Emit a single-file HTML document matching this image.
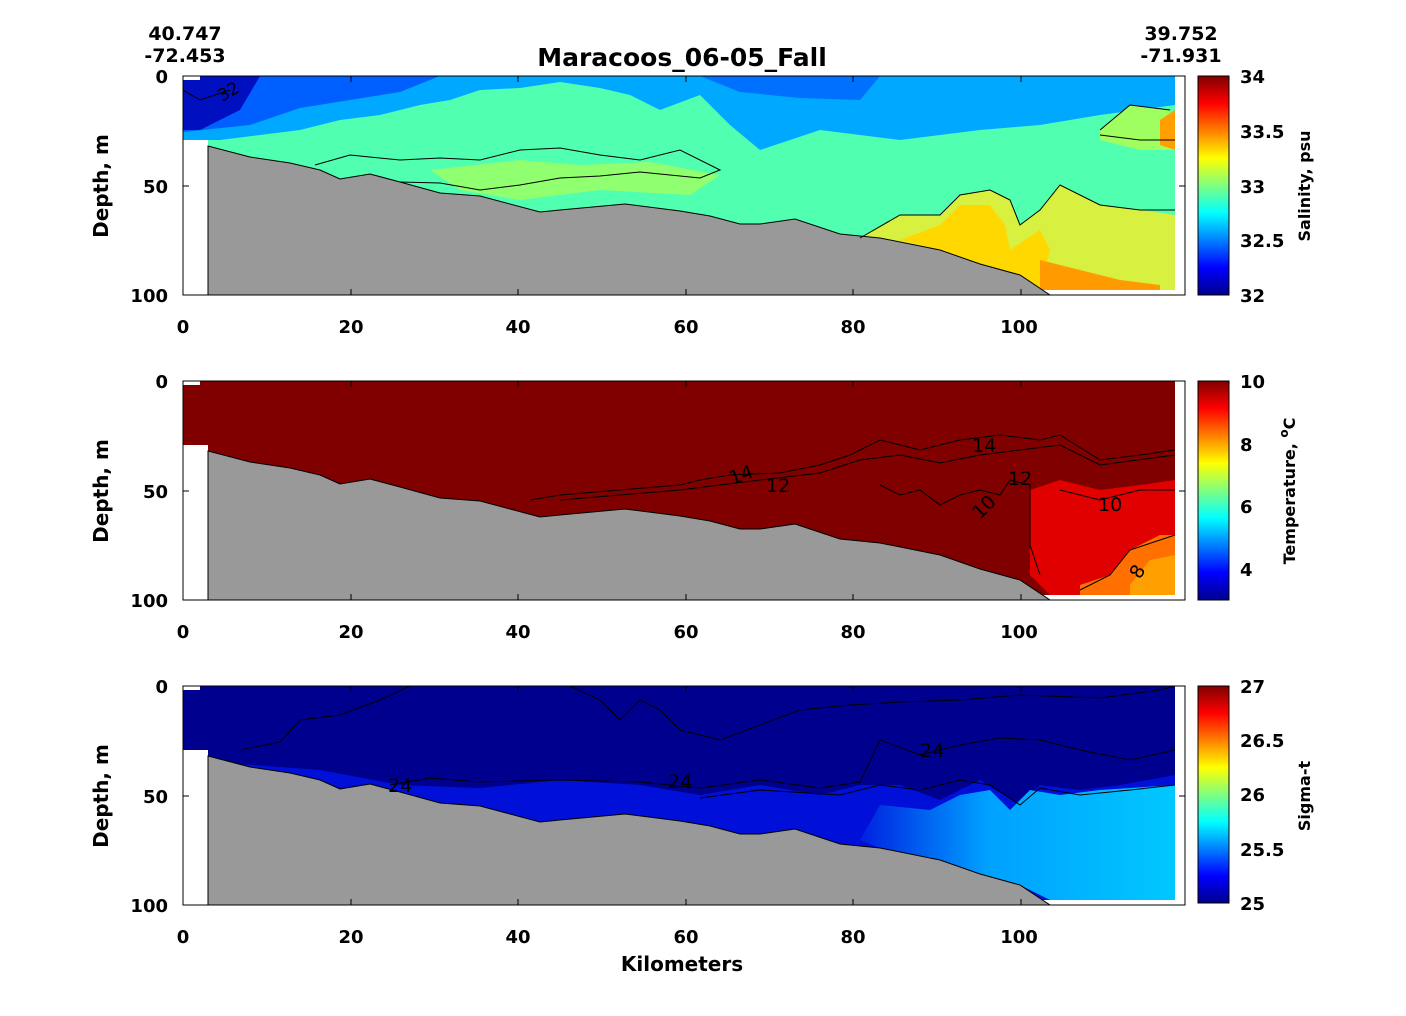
<!DOCTYPE html>
<html><head><meta charset="utf-8"><style>
html,body{margin:0;padding:0;background:#fff;}
svg{display:block;font-family:"DejaVu Sans","Liberation Sans",sans-serif;font-weight:bold;}
</style></head><body>
<svg width="1406" height="1016" viewBox="0 0 1406 1016" xmlns="http://www.w3.org/2000/svg">
<defs>
<linearGradient id="jet" x1="0" y1="1" x2="0" y2="0">
<stop offset="0" stop-color="#00008f"/><stop offset="0.125" stop-color="#0000ff"/>
<stop offset="0.375" stop-color="#00ffff"/><stop offset="0.625" stop-color="#ffff00"/>
<stop offset="0.875" stop-color="#ff0000"/><stop offset="1" stop-color="#800000"/>
</linearGradient>
<linearGradient id="sigR" x1="0" y1="0" x2="1" y2="0">
<stop offset="0" stop-color="#0020e0"/><stop offset="0.4" stop-color="#00a0ff"/><stop offset="1" stop-color="#00c8ff"/>
</linearGradient>
<path id="bath" d="M208,295 L208,146 L250,157 L290,163 L320,170 L340,179 L370,174 L400,182 L440,193 L480,196 L540,212 L560,210 L625,204 L680,211 L710,216 L740,224 L760,224 L795,219 L840,234 L880,238 L940,250 L980,264 L1020,275 L1050,295 Z"/>
<clipPath id="plotclip"><rect x="183" y="76" width="1002" height="219"/></clipPath>
</defs>

<text x="682" y="66" font-size="25" text-anchor="middle">Maracoos_06-05_Fall</text>
<text x="185" y="40" font-size="19" text-anchor="middle">40.747</text>
<text x="185" y="62" font-size="19" text-anchor="middle">-72.453</text>
<text x="1181" y="40" font-size="19" text-anchor="middle">39.752</text>
<text x="1181" y="62" font-size="19" text-anchor="middle">-71.931</text>

<!-- Panel 1: Salinity -->
<g>
<g clip-path="url(#plotclip)">
<rect x="183" y="76" width="992" height="219" fill="#50ffb0"/>
<path d="M183,76 L1175,76 L1175,105 L1100,115 L1040,125 L980,130 L900,140 L820,130 L760,150 L730,125 L700,95 L660,110 L630,95 L600,88 L560,82 L520,88 L480,90 L450,100 L420,105 L380,115 L340,120 L300,130 L260,135 L220,140 L183,140 Z" fill="#00a8ff"/>
<path d="M183,76 L440,76 L400,92 L350,100 L300,108 L250,125 L183,132 Z" fill="#0060ff"/>
<path d="M700,76 L880,76 L860,100 L800,98 L740,92 Z" fill="#0070ff"/>
<path d="M183,76 L260,76 L240,110 L200,130 L183,130 Z" fill="#0010c0"/>
<path d="M430,170 L520,160 L580,165 L650,162 L720,175 L690,195 L600,190 L520,200 L460,190 Z" fill="#90ff70"/>
<path d="M860,238 L900,215 L940,215 L960,195 L990,190 L1010,200 L1020,225 L1040,210 L1060,185 L1100,205 L1140,210 L1175,215 L1175,290 L1050,290 L1020,275 L980,264 L940,250 L880,238 Z" fill="#d8f040"/>
<path d="M900,240 L940,225 L960,205 L990,205 L1005,225 L1010,250 L1040,230 L1050,250 L1040,290 L1020,275 L980,264 L940,250 Z" fill="#ffd800"/>
<path d="M1040,260 L1080,270 L1120,280 L1160,285 L1160,290 L1040,290 Z" fill="#ff9a00"/>
<path d="M1100,130 L1130,105 L1170,110 L1175,150 L1140,150 L1100,140 Z" fill="#a0ff60"/>
<path d="M1160,120 L1175,110 L1175,150 L1160,145 Z" fill="#ffa000"/>
<path d="M183,290 L1175,290 L1175,295 L183,295Z" fill="#fff"/>
<path d="M183,76 L200,76 L200,80 L183,80Z" fill="#fff"/>
<path d="M183,140 L208,140 L208,295 L183,295Z" fill="#fff"/>
<use href="#bath" fill="#999" stroke="#000" stroke-width="1"/>
<g fill="none" stroke="#000" stroke-width="1">
<path d="M315,165 L350,155 L400,160 L440,158 L480,160 L520,150 L560,148 L600,155 L640,160 L680,150 L720,170 L700,178 L640,172 L600,176 L560,178 L520,185 L480,190 L440,183 L400,182"/>
<path d="M860,238 L900,215 L940,215 L960,195 L990,190 L1010,200 L1020,225 L1040,210 L1060,185 L1100,205 L1140,210 L1175,210"/>
<path d="M1100,130 L1130,105 L1170,110 M1175,140 L1140,140 L1100,135"/>
<path d="M183,90 L200,100 L230,90"/>
</g>
<text x="222" y="102" font-size="17" font-weight="normal" transform="rotate(-30 222 102)">32</text>
</g>
<rect x="183" y="76" width="1002" height="219" fill="none" stroke="#000" stroke-width="1"/>
</g>

<!-- Panel 2: Temperature -->
<g transform="translate(0,305)">
<g clip-path="url(#plotclip)">
<rect x="183" y="76" width="992" height="219" fill="#800000"/>
<path d="M1030,185 L1060,175 L1100,185 L1140,180 L1175,175 L1175,290 L1050,290 L1030,270 Z" fill="#e00000"/>
<path d="M1080,280 L1110,270 L1130,245 L1160,230 L1175,230 L1175,290 L1080,290 Z" fill="#ff7000"/>
<path d="M1130,280 L1150,255 L1175,250 L1175,290 L1130,290Z" fill="#ffa000"/>
<path d="M183,290 L1175,290 L1175,295 L183,295Z" fill="#fff"/>
<path d="M183,76 L200,76 L200,80 L183,80Z" fill="#fff"/>
<path d="M183,140 L208,140 L208,295 L183,295Z" fill="#fff"/>
<use href="#bath" fill="#999" stroke="#000" stroke-width="1"/>
<g fill="none" stroke="#000" stroke-width="1">
<path d="M530,195 L560,190 L620,185 L680,180 L700,175 L730,170 L780,168 L820,160 L850,150 L880,135 L920,145 L960,135 L1000,130 L1040,135 L1060,130 L1100,155 L1140,150 L1175,145"/>
<path d="M560,195 L620,190 L680,185 L720,180 L760,175 L820,168 L860,155 L900,150 L940,158 L980,150 L1020,145 L1060,140 L1100,160 L1175,150"/>
<path d="M880,180 L900,190 L920,185 L940,200 L960,190 L980,185 L1000,190 L1010,175 L1030,180 L1030,240 L1040,270"/>
<path d="M1060,185 L1100,195 L1140,185 L1175,185"/>
<path d="M1080,285 L1110,270 L1130,245 L1160,235 L1175,230"/>
</g>
<g font-size="19" font-weight="normal">
<text x="732" y="180" transform="rotate(-20 732 180)">14</text>
<text x="766" y="187">12</text>
<text x="972" y="147">14</text>
<text x="1008" y="180">12</text>
<text x="1098" y="206">10</text>
<text x="980" y="215" transform="rotate(-45 980 215)">10</text>
<text x="1140" y="275" transform="rotate(-60 1140 275)">8</text>
</g>
</g>
<rect x="183" y="76" width="1002" height="219" fill="none" stroke="#000" stroke-width="1"/>
</g>

<!-- Panel 3: Sigma-t -->
<g transform="translate(0,610)">
<g clip-path="url(#plotclip)">
<rect x="183" y="76" width="992" height="219" fill="#00008f"/>
<path d="M183,150 L320,160 L400,175 L480,178 L560,170 L640,175 L700,185 L760,175 L820,185 L860,175 L900,175 L940,190 L980,170 L1020,195 L1040,175 L1080,180 L1120,175 L1175,165 L1175,290 L183,290 Z" fill="#0010d8"/>
<path d="M860,230 L880,195 L930,200 L960,185 L990,180 L1010,200 L1030,180 L1060,185 L1100,180 L1175,175 L1175,290 L1050,290 L1020,275 L980,264 L940,250 L880,238 Z" fill="url(#sigR)"/>
<path d="M183,290 L1175,290 L1175,295 L183,295Z" fill="#fff"/>
<path d="M183,76 L200,76 L200,80 L183,80Z" fill="#fff"/>
<path d="M183,140 L208,140 L208,295 L183,295Z" fill="#fff"/>
<use href="#bath" fill="#999" stroke="#000" stroke-width="1"/>
<g fill="none" stroke="#000" stroke-width="1">
<path d="M240,140 L280,132 L300,110 L340,105 L380,90 L410,76"/>
<path d="M570,76 L600,90 L620,110 L640,90 L660,100 L680,120 L720,130 L760,115 L800,100 L850,95 L900,92 L960,90 L1020,85 L1100,88 L1160,80 L1175,76"/>
<path d="M390,175 L430,168 L480,172 L560,170 L640,172 L700,178 L760,170 L820,178 L860,172 L880,130 L920,145 L960,135 L1000,128 L1040,130 L1080,140 L1130,150 L1175,140"/>
<path d="M700,188 L760,180 L840,185 L880,175 L920,180 L960,170 L990,175 L1020,195 L1040,178 L1080,185 L1130,180 L1175,175"/>
</g>
<g font-size="19" font-weight="normal">
<text x="668" y="178">24</text>
<text x="920" y="147">24</text>
<text x="388" y="182">24</text>
</g>
</g>
<rect x="183" y="76" width="1002" height="219" fill="none" stroke="#000" stroke-width="1"/>
</g>

<g font-size="18">
<g stroke="#000" stroke-width="1">
<path d="M183,76v6M351,76v6M518,76v6M686,76v6M853,76v6M1021,76v6M351,295v-6M518,295v-6M686,295v-6M853,295v-6M1021,295v-6M1185,186h-6M183,186h6"/>
<path d="M183,381v6M351,381v6M518,381v6M686,381v6M853,381v6M1021,381v6M351,600v-6M518,600v-6M686,600v-6M853,600v-6M1021,600v-6M1185,491h-6M183,491h6"/>
<path d="M183,686v6M351,686v6M518,686v6M686,686v6M853,686v6M1021,686v6M351,905v-6M518,905v-6M686,905v-6M853,905v-6M1021,905v-6M1185,796h-6M183,796h6"/>
</g>
<g text-anchor="middle">
<text x="183" y="333">0</text><text x="351" y="333">20</text><text x="518" y="333">40</text><text x="686" y="333">60</text><text x="853" y="333">80</text><text x="1019" y="333">100</text>
<text x="183" y="638">0</text><text x="351" y="638">20</text><text x="518" y="638">40</text><text x="686" y="638">60</text><text x="853" y="638">80</text><text x="1019" y="638">100</text>
<text x="183" y="943">0</text><text x="351" y="943">20</text><text x="518" y="943">40</text><text x="686" y="943">60</text><text x="853" y="943">80</text><text x="1019" y="943">100</text>
</g>
<g text-anchor="end">
<text x="168" y="83">0</text><text x="168" y="193">50</text><text x="168" y="302">100</text>
<text x="168" y="388">0</text><text x="168" y="498">50</text><text x="168" y="607">100</text>
<text x="168" y="693">0</text><text x="168" y="803">50</text><text x="168" y="912">100</text>
</g>
<text x="682" y="971" font-size="20" text-anchor="middle">Kilometers</text>
<text transform="translate(108,186) rotate(-90)" font-size="20" text-anchor="middle">Depth, m</text>
<text transform="translate(108,491) rotate(-90)" font-size="20" text-anchor="middle">Depth, m</text>
<text transform="translate(108,796) rotate(-90)" font-size="20" text-anchor="middle">Depth, m</text>
</g>

<g font-size="18">
<rect x="1198" y="76" width="31" height="219" fill="url(#jet)" stroke="#000"/>
<text x="1240" y="83">34</text><text x="1240" y="138">33.5</text><text x="1240" y="193">33</text><text x="1240" y="247">32.5</text><text x="1240" y="302">32</text>
<text transform="translate(1310,186) rotate(-90)" font-size="16" text-anchor="middle">Salinity, psu</text>

<rect x="1198" y="381" width="31" height="219" fill="url(#jet)" stroke="#000"/>
<text x="1240" y="388">10</text><text x="1240" y="451">8</text><text x="1240" y="513">6</text><text x="1240" y="576">4</text>
<text transform="translate(1295,491) rotate(-90)" font-size="16" text-anchor="middle">Temperature, <tspan baseline-shift="super" font-size="12">o</tspan>C</text>

<rect x="1198" y="686" width="31" height="217" fill="url(#jet)" stroke="#000"/>
<text x="1240" y="693">27</text><text x="1240" y="747">26.5</text><text x="1240" y="801">26</text><text x="1240" y="856">25.5</text><text x="1240" y="910">25</text>
<text transform="translate(1310,796) rotate(-90)" font-size="16" text-anchor="middle">Sigma-t</text>
</g>
</svg>
</body></html>
